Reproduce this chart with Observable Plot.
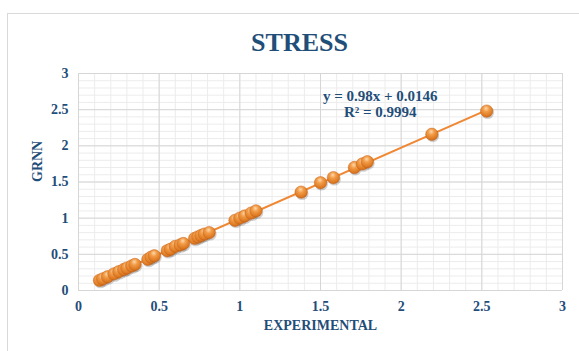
<!DOCTYPE html>
<html>
<head>
<meta charset="utf-8">
<script src="https://cdn.jsdelivr.net/npm/d3@7"></script>
<script src="https://cdn.jsdelivr.net/npm/@observablehq/plot@0.6"></script>
<style>
  body { margin: 0; background: #fff; }
  #wrap { position: relative; width: 579px; height: 351px; overflow: hidden; font-family: "Liberation Serif", "Times New Roman", serif; }
  #frame { position: absolute; left: 7px; top: 13px; width: 640px; height: 400px; border: 1px solid #d9d9d9; box-sizing: border-box; }
  #title { position: absolute; left: 0; top: 0; width: 599px; height: 60px; line-height: 86px; text-align: center; font-weight: bold; font-size: 26px; color: #1F4E79; }
  #chart { position: absolute; left: 0; top: 60px; }
</style>
</head>
<body>
<div id="wrap">
  <div id="frame"></div>
  <div id="title">STRESS</div>
  <div id="chart"></div>
</div>
<script>
// Measured stress vs. GRNN prediction
const experimental = [0.13, 0.15, 0.18, 0.22, 0.25, 0.28, 0.30, 0.33, 0.35, 0.43, 0.45, 0.47, 0.55, 0.57, 0.60, 0.63, 0.65, 0.72, 0.74, 0.76, 0.78, 0.81, 0.97, 1.00, 1.03, 1.07, 1.10, 1.38, 1.50, 1.58, 1.71, 1.76, 1.79, 2.19, 2.53];
const grnn =         [0.14, 0.16, 0.19, 0.23, 0.26, 0.29, 0.31, 0.34, 0.36, 0.43, 0.46, 0.48, 0.55, 0.57, 0.61, 0.63, 0.65, 0.72, 0.74, 0.76, 0.78, 0.80, 0.97, 1.00, 1.03, 1.07, 1.10, 1.36, 1.49, 1.56, 1.70, 1.75, 1.78, 2.16, 2.48];

// Linear trendline
const slope = 0.98;
const intercept = 0.0146;
const rSquared = 0.9994;

const axisTicks = [0, 0.5, 1, 1.5, 2, 2.5, 3];
const tickLabels = ["0", "0.5", "1", "1.5", "2", "2.5", "3"];

const points = experimental.map((x, i) => ({x, y: grnn[i]}));
const xExtent = d3.extent(experimental);
const trend = xExtent.map(x => ({x, y: slope * x + intercept}));

const minor = d3.range(0, 31).map(i => i / 10);
const ink = "#1F4E79";
const orange = "#EF8733";

const chart = Plot.plot({
  width: 579,
  height: 291,
  marginLeft: 78,
  marginRight: 17,
  marginTop: 13,
  marginBottom: 61,
  x: {domain: [0, 3]},
  y: {domain: [0, 3]},
  style: {fontFamily: "'Liberation Serif', 'Times New Roman', serif", background: "transparent"},
  marks: [
    Plot.ruleX(minor, {stroke: "#ececec", strokeWidth: 1}),
    Plot.ruleY(minor, {stroke: "#ececec", strokeWidth: 1}),
    Plot.ruleX(axisTicks, {stroke: "#d6d6d6", strokeWidth: 1}),
    Plot.ruleY(axisTicks, {stroke: "#d6d6d6", strokeWidth: 1}),
    Plot.axisX(axisTicks, {tickSize: 0, tickPadding: 11, tickFormat: (d, i) => tickLabels[i], fontSize: 14, fontWeight: "bold", fill: ink, label: null}),
    Plot.axisY(axisTicks, {tickSize: 0, tickPadding: 10, tickFormat: (d, i) => tickLabels[i], fontSize: 14, fontWeight: "bold", fill: ink, label: null}),
    Plot.text(["EXPERIMENTAL"], {frameAnchor: "bottom", dy: 39, fontSize: 14, fontWeight: "bold", fill: ink}),
    Plot.text(["GRNN"], {frameAnchor: "left", dx: -41, rotate: -90, fontSize: 14, fontWeight: "bold", fill: ink}),
    Plot.line(trend, {x: "x", y: "y", stroke: orange, strokeWidth: 2}),
    Plot.dot(points, {x: "x", y: "y", r: 6.4, fill: "rgba(0,0,0,0.18)", dx: 1, dy: 1.5}),
    Plot.dot(points, {x: "x", y: "y", r: 6.2, fill: "url(#ball)", stroke: "#c8641c", strokeWidth: 0.5}),
    Plot.text([`y = ${slope}x + ${intercept}`], {x: 1.87, y: 2.68, fontSize: 15, fontWeight: "bold", fill: ink}),
    Plot.text([`R² = ${rSquared}`], {x: 1.87, y: 2.46, fontSize: 15, fontWeight: "bold", fill: ink})
  ]
});

// Shaded fill for the markers
const svgNS = "http://www.w3.org/2000/svg";
const defs = document.createElementNS(svgNS, "defs");
defs.innerHTML = `
  <radialGradient id="ball" cx="0.45" cy="0.35" r="0.7" fx="0.45" fy="0.28">
    <stop offset="0" stop-color="#fdd9ac"/>
    <stop offset="0.35" stop-color="#f29c48"/>
    <stop offset="0.8" stop-color="#dc7820"/>
    <stop offset="1" stop-color="#b45a14"/>
  </radialGradient>`;
chart.insertBefore(defs, chart.firstChild);
document.getElementById("chart").appendChild(chart);
</script>
</body>
</html>
